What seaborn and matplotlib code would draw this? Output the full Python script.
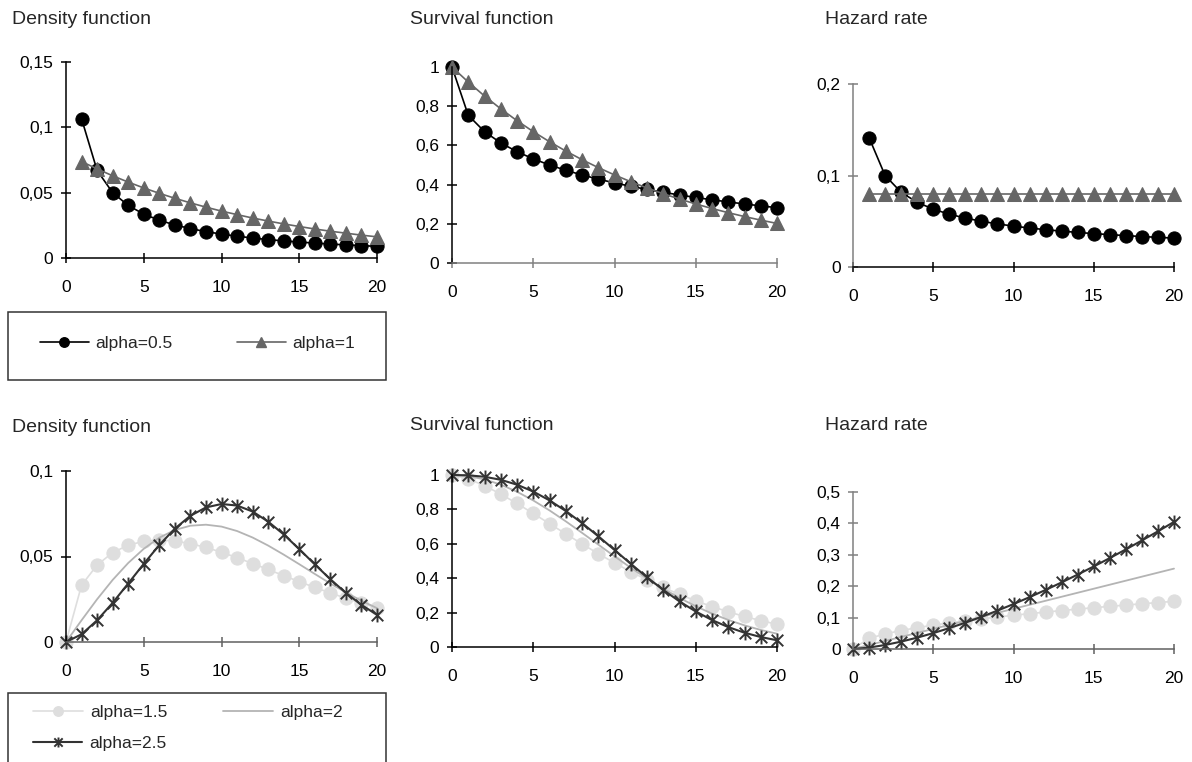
import matplotlib
matplotlib.use("Agg")
import matplotlib.pyplot as plt
import seaborn as sns
from matplotlib.path import Path
from matplotlib.lines import Line2D
from matplotlib.patches import Rectangle

# ---------------- data ----------------
x_top_1 = [1, 2, 3, 4, 5, 6, 7, 8, 9, 10, 11, 12, 13, 14, 15, 16, 17, 18, 19, 20]
x_0_20 = [0, 1, 2, 3, 4, 5, 6, 7, 8, 9, 10, 11, 12, 13, 14, 15, 16, 17, 18, 19, 20]

pdf_a05 = [0.1066, 0.0670, 0.0500, 0.0402, 0.0336, 0.0289, 0.0253, 0.0225, 0.0202, 0.0183,
           0.0167, 0.0153, 0.0141, 0.0131, 0.0122, 0.0114, 0.0107, 0.0100, 0.0095, 0.0089]
pdf_a1 = [0.0738, 0.0682, 0.0629, 0.0581, 0.0536, 0.0495, 0.0457, 0.0422, 0.0389, 0.0359,
          0.0332, 0.0306, 0.0283, 0.0261, 0.0241, 0.0222, 0.0205, 0.0190, 0.0175, 0.0162]
surv_a05 = [1.0, 0.7536, 0.6703, 0.6127, 0.5680, 0.5313, 0.5002, 0.4732, 0.4493, 0.4280, 0.4088,
            0.3914, 0.3754, 0.3607, 0.3471, 0.3344, 0.3226, 0.3116, 0.3012, 0.2915, 0.2823]
surv_a1 = [1.0, 0.9231, 0.8521, 0.7866, 0.7261, 0.6703, 0.6188, 0.5712, 0.5273, 0.4868, 0.4493,
           0.4148, 0.3829, 0.3535, 0.3263, 0.3012, 0.2780, 0.2567, 0.2369, 0.2187, 0.2019]
haz_a05 = [0.1414, 0.1000, 0.0816, 0.0707, 0.0632, 0.0577, 0.0535, 0.0500, 0.0471, 0.0447,
           0.0426, 0.0408, 0.0392, 0.0378, 0.0365, 0.0354, 0.0343, 0.0333, 0.0324, 0.0316]
haz_a1 = [0.08, 0.08, 0.08, 0.08, 0.08, 0.08, 0.08, 0.08, 0.08, 0.08,
          0.08, 0.08, 0.08, 0.08, 0.08, 0.08, 0.08, 0.08, 0.08, 0.08]

pdf_a15 = [0.0, 0.0332, 0.0450, 0.0523, 0.0566, 0.0589, 0.0596, 0.0591, 0.0575, 0.0553, 0.0525,
           0.0493, 0.0459, 0.0424, 0.0388, 0.0353, 0.0319, 0.0287, 0.0256, 0.0227, 0.0201]
pdf_a2 = [0.0, 0.0127, 0.0250, 0.0363, 0.0462, 0.0545, 0.0610, 0.0655, 0.0680, 0.0686, 0.0675,
          0.0649, 0.0611, 0.0564, 0.0511, 0.0455, 0.0398, 0.0342, 0.0290, 0.0241, 0.0198]
pdf_a25 = [0.0, 0.0045, 0.0127, 0.0229, 0.0342, 0.0457, 0.0567, 0.0663, 0.0738, 0.0787, 0.0807,
           0.0798, 0.0763, 0.0704, 0.0629, 0.0543, 0.0454, 0.0367, 0.0287, 0.0217, 0.0159]
surv_a15 = [1.0, 0.9776, 0.9380, 0.8891, 0.8344, 0.7765, 0.7171, 0.6577, 0.5993, 0.5428, 0.4889,
            0.4380, 0.3904, 0.3463, 0.3057, 0.2686, 0.2350, 0.2047, 0.1776, 0.1535, 0.1321]
surv_a2 = [1.0, 0.9936, 0.9747, 0.9440, 0.9027, 0.8521, 0.7942, 0.7308, 0.6639, 0.5955, 0.5273,
           0.4610, 0.3979, 0.3391, 0.2852, 0.2369, 0.1943, 0.1573, 0.1257, 0.0992, 0.0773]
surv_a25 = [1.0, 0.9982, 0.9898, 0.9722, 0.9437, 0.9038, 0.8525, 0.7908, 0.7206, 0.6441, 0.5642,
            0.4836, 0.4054, 0.3319, 0.2651, 0.2065, 0.1567, 0.1157, 0.0830, 0.0579, 0.0392]
haz_a15 = [0.0, 0.0339, 0.0480, 0.0588, 0.0679, 0.0759, 0.0831, 0.0898, 0.0960, 0.1018, 0.1073,
           0.1126, 0.1176, 0.1224, 0.1270, 0.1315, 0.1358, 0.1399, 0.1440, 0.1479, 0.1518]
haz_a2 = [0.0, 0.0128, 0.0256, 0.0384, 0.0512, 0.0640, 0.0768, 0.0896, 0.1024, 0.1152, 0.1280,
          0.1408, 0.1536, 0.1664, 0.1792, 0.1920, 0.2048, 0.2176, 0.2304, 0.2432, 0.2560]
haz_a25 = [0.0, 0.0045, 0.0128, 0.0235, 0.0362, 0.0506, 0.0665, 0.0838, 0.1024, 0.1222, 0.1431,
           0.1651, 0.1881, 0.2121, 0.2371, 0.2629, 0.2896, 0.3172, 0.3456, 0.3748, 0.4048]

titles = ["Density function", "Survival function", "Hazard rate"]
legend_top = ["alpha=0.5", "alpha=1"]
legend_bottom = ["alpha=1.5", "alpha=2", "alpha=2.5"]

xticks = [0, 5, 10, 15, 20]
xtick_labels = ["0", "5", "10", "15", "20"]
yt_pdf_top = [0, 0.05, 0.1, 0.15]
yl_pdf_top = ["0", "0,05", "0,1", "0,15"]
yt_surv = [0, 0.2, 0.4, 0.6, 0.8, 1.0]
yl_surv = ["0", "0,2", "0,4", "0,6", "0,8", "1"]
yt_haz_top = [0, 0.1, 0.2]
yl_haz_top = ["0", "0,1", "0,2"]
yt_pdf_bot = [0, 0.05, 0.1]
yl_pdf_bot = ["0", "0,05", "0,1"]
yt_haz_bot = [0, 0.1, 0.2, 0.3, 0.4, 0.5]
yl_haz_bot = ["0", "0,1", "0,2", "0,3", "0,4", "0,5"]

# ---------------- style ----------------
sns.set_theme(style="white")
plt.rcParams["font.family"] = ["Liberation Sans", "DejaVu Sans"]

W, H = 1192, 762
fig = plt.figure(figsize=(W / 100, H / 100), dpi=100)

star = Path([(-1, -1), (1, 1), (-1, 1), (1, -1), (0, -1.2), (0, 1.2)],
            [Path.MOVETO, Path.LINETO, Path.MOVETO, Path.LINETO, Path.MOVETO, Path.LINETO])

C_BLACK = "#000000"
C_TRI = "#666666"
C_LIGHT = "#DEDEDE"
C_MID = "#B4B4B4"
C_DARK = "#333333"

S_05 = dict(color=C_BLACK, marker="o", markersize=9.5, markerfacecolor=C_BLACK,
            markeredgecolor=C_BLACK, linewidth=1.2)
S_1 = dict(color=C_TRI, marker="^", markersize=10, markerfacecolor=C_TRI,
           markeredgecolor=C_TRI, linewidth=1.2)
S_15 = dict(color=C_LIGHT, marker="o", markersize=9.5, markerfacecolor=C_LIGHT,
            markeredgecolor=C_LIGHT, linewidth=1.2)
S_2 = dict(color=C_MID, linewidth=1.3)
S_25 = dict(color=C_DARK, marker=star, markersize=10, markerfacecolor="none",
            markeredgecolor=C_DARK, markeredgewidth=1.4, linewidth=1.5)


def px_axes(x0, x1, ytop, ybot):
    return fig.add_axes([x0 / W, 1 - ybot / H, (x1 - x0) / W, (ybot - ytop) / H])


def style_axes(ax, yt, yl, ymax, lcol, bcol):
    ax.set_xlim(0, 20)
    ax.set_ylim(0, ymax)
    ax.set_xticks(xticks)
    ax.set_xticklabels(xtick_labels)
    ax.set_yticks(yt)
    ax.set_yticklabels(yl)
    for s in ["top", "right"]:
        ax.spines[s].set_visible(False)
    ax.spines["left"].set_color(lcol)
    ax.spines["bottom"].set_color(bcol)
    ax.spines["left"].set_linewidth(1.1)
    ax.spines["bottom"].set_linewidth(1.1)
    ax.tick_params(axis="x", bottom=True, direction="inout", length=7, width=1.1, color=bcol,
                   pad=12, labelsize=12.5, labelcolor="black")
    ax.tick_params(axis="y", left=True, direction="inout", length=7, width=1.1, color=lcol,
                   pad=5.5, labelsize=12.5, labelcolor="black")
    ax.set_xlabel("")
    ax.set_ylabel("")
    ax.set_facecolor("none")
    ax.grid(False)


def draw(ax, x, y, style):
    sns.lineplot(x=x, y=y, ax=ax, legend=False, sort=False, estimator=None,
                 clip_on=False, **style)


# ---- top row ----
ax1 = px_axes(66, 377, 62, 258)
draw(ax1, x_top_1, pdf_a05, S_05)
draw(ax1, x_top_1, pdf_a1, S_1)
style_axes(ax1, yt_pdf_top, yl_pdf_top, 0.15, "#000000", "#000000")

ax2 = px_axes(452, 777, 67, 263)
draw(ax2, x_0_20, surv_a05, S_05)
draw(ax2, x_0_20, surv_a1, S_1)
style_axes(ax2, yt_surv, yl_surv, 1.0, "#000000", "#808080")

ax3 = px_axes(853, 1174, 84, 267)
draw(ax3, x_top_1, haz_a05, S_05)
draw(ax3, x_top_1, haz_a1, S_1)
style_axes(ax3, yt_haz_top, yl_haz_top, 0.2, "#808080", "#000000")

# ---- bottom row ----
ax4 = px_axes(66, 377, 471, 642)
draw(ax4, x_0_20, pdf_a15, S_15)
draw(ax4, x_0_20, pdf_a2, S_2)
draw(ax4, x_0_20, pdf_a25, S_25)
style_axes(ax4, yt_pdf_bot, yl_pdf_bot, 0.1, "#000000", "#606060")

ax5 = px_axes(452, 777, 475, 647)
draw(ax5, x_0_20, surv_a15, S_15)
draw(ax5, x_0_20, surv_a2, S_2)
draw(ax5, x_0_20, surv_a25, S_25)
style_axes(ax5, yt_surv, yl_surv, 1.0, "#000000", "#000000")

ax6 = px_axes(853, 1174, 492, 649)
draw(ax6, x_0_20, haz_a15, S_15)
draw(ax6, x_0_20, haz_a2, S_2)
draw(ax6, x_0_20, haz_a25, S_25)
style_axes(ax6, yt_haz_bot, yl_haz_bot, 0.5, "#808080", "#606060")

# ---- titles ----
for (tx, ty), t in zip([(12, 19), (410, 19), (825, 19)], titles):
    fig.text(tx / W, 1 - ty / H, t, fontsize=14, va="center", ha="left")
for (tx, ty), t in zip([(12, 427), (410, 425), (825, 425)], titles):
    fig.text(tx / W, 1 - ty / H, t, fontsize=14, va="center", ha="left")

# ---- legend boxes ----
fig.add_artist(Rectangle((8 / W, 1 - 380 / H), 378 / W, 68 / H, transform=fig.transFigure,
                         fill=False, edgecolor="#333333", linewidth=1.1))
fig.add_artist(Rectangle((8 / W, 1 - 775 / H), 378 / W, 82 / H, transform=fig.transFigure,
                         fill=False, edgecolor="#333333", linewidth=1.1))


def legend_entry(x, y, label, style, hl):
    st = dict(style)
    if "markersize" in st:
        st["markersize"] = st["markersize"] * 0.72
    h = Line2D([], [], **st)
    fig.legend(handles=[h], labels=[label], loc="center left",
               bbox_to_anchor=(x / W, 1 - y / H), frameon=False, borderpad=0,
               borderaxespad=0, handlelength=hl, handletextpad=0.4, fontsize=12.5)


legend_entry(40, 343, legend_top[0], S_05, 2.8)
legend_entry(237, 343, legend_top[1], S_1, 2.8)
legend_entry(33, 712, legend_bottom[0], S_15, 2.9)
legend_entry(223, 712, legend_bottom[1], S_2, 2.9)
legend_entry(33, 743, legend_bottom[2], S_25, 2.85)

fig.savefig("out.png", dpi=100)
